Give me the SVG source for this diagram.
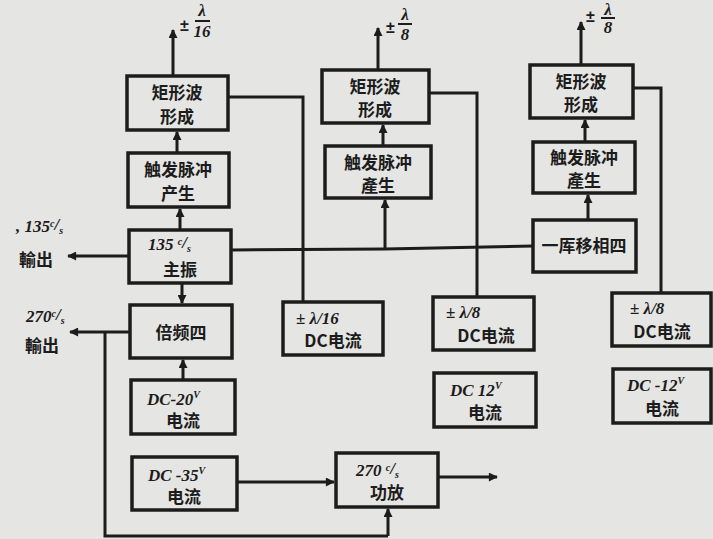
<svg xmlns="http://www.w3.org/2000/svg" width="713" height="539" viewBox="0 0 713 539">
<defs>
<marker id="ah" viewBox="0 0 10 10" refX="9" refY="5" markerWidth="11" markerHeight="9" markerUnits="userSpaceOnUse" orient="auto">
<path d="M0,0 L10,5 L0,10 z" fill="#1c1c1c"/>
</marker>
<style>
.bx{fill:none;stroke:#1c1c1c;stroke-width:3.5}
.ln{fill:none;stroke:#1c1c1c;stroke-width:3}
.ar{fill:none;stroke:#1c1c1c;stroke-width:3;marker-end:url(#ah)}
.t{font-family:"Noto Sans CJK SC","Noto Sans CJK JP",sans-serif;font-size:17px;fill:#1c1c1c;text-anchor:middle;font-weight:bold}
.n{font-family:"Liberation Serif",serif;font-style:italic;font-weight:bold;font-size:17px;fill:#1c1c1c}
.pm{font-family:"Liberation Sans",sans-serif;font-weight:bold;font-size:16px;fill:#1c1c1c}
.s{font-size:10px}
.fb{stroke:#1c1c1c;stroke-width:2}
</style>
</defs>
<rect width="713" height="539" fill="#e5e5e3"/>

<g id="connectors">
<path class="ar" d="M173,76 V30"/>
<path class="ln" d="M228,97 H303 V302"/>
<path class="ar" d="M177,153 V132"/>
<path class="ar" d="M180,230 V209"/>
<path class="ar" d="M129,256 H68"/>
<path class="ar" d="M182,283 V303"/>
<path class="ar" d="M183,380 V360"/>
<path class="ar" d="M130,332 H70"/>
<path class="ln" d="M105,332 V536 H388"/>
<path class="ar" d="M388,536 V509"/>
<path class="ar" d="M237,482 H334"/>
<path class="ar" d="M438,477 H497"/>
<path class="ln" d="M231,250 L385,249 L533,246"/>
<path class="ar" d="M385,249 V200"/>
<path class="ar" d="M383,146 V125"/>
<path class="ar" d="M378,70 V28"/>
<path class="ln" d="M429,93 H477 V297"/>
<path class="ar" d="M588,220 V195"/>
<path class="ar" d="M585,142 V120"/>
<path class="ar" d="M581,65 V22"/>
<path class="ln" d="M633,88 H661 V293"/>
</g>

<g id="out-labels">
<text class="pm" x="180" y="31">±</text>
<text class="n" x="202" y="16" font-size="12" text-anchor="middle">λ</text>
<line class="fb" x1="195" y1="21" x2="210" y2="21"/>
<text class="n" x="202" y="37" font-size="13" text-anchor="middle">16</text>

<text class="pm" x="386" y="33">±</text>
<text class="n" x="405" y="20" font-size="13" text-anchor="middle">λ</text>
<line class="fb" x1="398" y1="24" x2="412" y2="24"/>
<text class="n" x="405" y="40" font-size="15" text-anchor="middle">8</text>

<text class="pm" x="586" y="22">±</text>
<text class="n" x="608" y="15" font-size="12" text-anchor="middle">λ</text>
<line class="fb" x1="601" y1="18" x2="615" y2="18"/>
<text class="n" x="608" y="33" font-size="14" text-anchor="middle">8</text>

<text class="n" x="16" y="232" font-size="16">, 135<tspan class="s" dy="-5">c</tspan><tspan dy="3">/</tspan><tspan class="s" dy="4">s</tspan></text>
<text class="t" x="36" y="266">輸出</text>
<text class="n" x="26" y="322" font-size="15">270<tspan class="s" dy="-5">c</tspan><tspan dy="3">/</tspan><tspan class="s" dy="4">s</tspan></text>
<text class="t" x="42" y="352">輸出</text>
</g>

<g id="rect1"><rect class="bx" x="127" y="76" width="101" height="54"/>
<text class="t" x="177" y="99">矩形波</text><text class="t" x="177" y="123">形成</text></g>
<g id="trig1"><rect class="bx" x="128" y="153" width="101" height="54"/>
<text class="t" x="178" y="176">触发脉冲</text><text class="t" x="178" y="200">产生</text></g>
<g id="osc"><rect class="bx" x="129" y="230" width="102" height="53"/>
<text class="n" x="148" y="250">135 <tspan class="s" dy="-5">c</tspan><tspan dy="3">/</tspan><tspan class="s" dy="4">s</tspan></text>
<text class="t" x="180" y="276">主振</text></g>
<g id="mult"><rect class="bx" x="130" y="305" width="102" height="53"/>
<text class="t" x="181" y="339" font-size="20">倍频四</text></g>
<g id="dc20"><rect class="bx" x="131" y="380" width="104" height="54"/>
<text class="n" x="147" y="405">DC-20<tspan class="s" dy="-7">V</tspan></text>
<text class="t" x="183" y="427">电流</text></g>
<g id="dc35"><rect class="bx" x="132" y="457" width="105" height="53"/>
<text class="n" x="148" y="481">DC -35<tspan class="s" dy="-7">V</tspan></text>
<text class="t" x="184" y="503">电流</text></g>

<g id="rect2"><rect class="bx" x="322" y="70" width="107" height="53"/>
<text class="t" x="375" y="93">矩形波</text><text class="t" x="375" y="116">形成</text></g>
<g id="trig2"><rect class="bx" x="325" y="146" width="106" height="52"/>
<text class="t" x="378" y="169">触发脉冲</text><text class="t" x="378" y="192">產生</text></g>
<g id="dc16"><rect class="bx" x="283" y="302" width="100" height="53"/>
<text class="n" x="296" y="324">± λ/16</text>
<text class="t" x="333" y="347" font-size="15">DC电流</text></g>
<g id="dc8a"><rect class="bx" x="433" y="297" width="101" height="53"/>
<text class="n" x="446" y="318">± λ/8</text>
<text class="t" x="486" y="342" font-size="15">DC电流</text></g>
<g id="dc12"><rect class="bx" x="434" y="373" width="102" height="54"/>
<text class="n" x="450" y="396">DC 12<tspan class="s" dy="-7">V</tspan></text>
<text class="t" x="485" y="419">电流</text></g>
<g id="amp"><rect class="bx" x="336" y="453" width="102" height="54"/>
<text class="n" x="356" y="476">270 <tspan class="s" dy="-5">c</tspan><tspan dy="3">/</tspan><tspan class="s" dy="4">s</tspan></text>
<text class="t" x="387" y="499">功放</text></g>

<g id="rect3"><rect class="bx" x="530" y="65" width="103" height="53"/>
<text class="t" x="581" y="88">矩形波</text><text class="t" x="581" y="111">形成</text></g>
<g id="trig3"><rect class="bx" x="533" y="142" width="102" height="51"/>
<text class="t" x="584" y="164">触发脉冲</text><text class="t" x="584" y="187">產生</text></g>
<g id="shift"><rect class="bx" x="533" y="220" width="103" height="52"/>
<text class="t" x="584" y="252" font-size="19">一厍移相四</text></g>
<g id="dc8b"><rect class="bx" x="612" y="293" width="99" height="53"/>
<text class="n" x="630" y="314">± λ/8</text>
<text class="t" x="662" y="338" font-size="15">DC电流</text></g>
<g id="dc12n"><rect class="bx" x="613" y="369" width="98" height="54"/>
<text class="n" x="627" y="391">DC -12<tspan class="s" dy="-7">V</tspan></text>
<text class="t" x="662" y="415">电流</text></g>
</svg>
